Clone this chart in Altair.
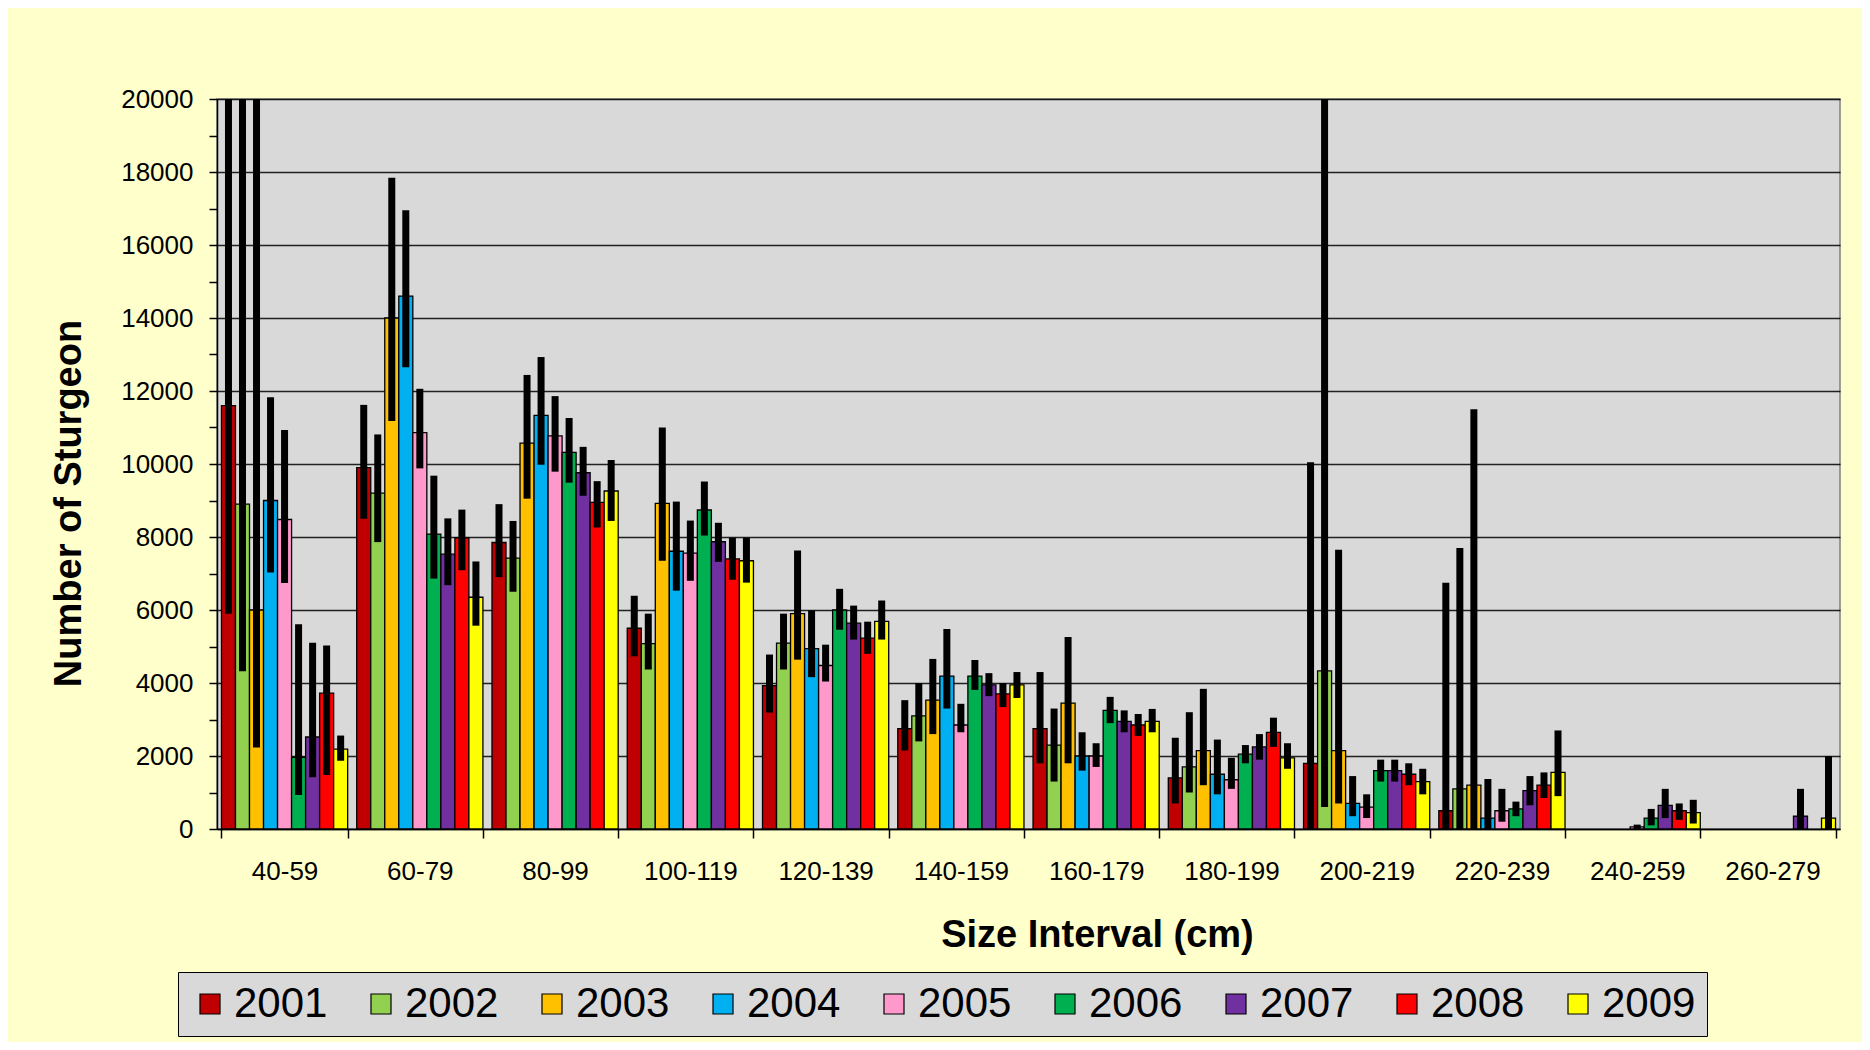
import altair as alt
import pandas as pd

intervals = ["40-59", "60-79", "80-99", "100-119", "120-139", "140-159",
             "160-179", "180-199", "200-219", "220-239", "240-259", "260-279"]
years = ["2001", "2002", "2003", "2004", "2005", "2006", "2007", "2008", "2009"]
colors = ["#C00000", "#92D050", "#FFC000", "#00B0F0", "#FF99CC",
          "#00B050", "#7030A0", "#FF0000", "#FFFF00"]

# estimated number of sturgeon per size interval (None = no bar)
n2001 = [11600, 9900, 7850, 5500, 3930, 2750, 2750, 1400, 1800, 500, None, None]
n2002 = [8900, 9200, 7420, 5080, 5090, 3100, 2300, 1700, 4330, 1100, None, None]
n2003 = [6000, 14000, 10570, 8920, 5900, 3530, 3450, 2150, 2150, 1200, None, None]
n2004 = [9000, 14600, 11330, 7610, 4940, 4190, 2000, 1500, 700, 300, None, None]
n2005 = [8480, 10860, 10770, 7560, 4480, 2850, 2000, 1350, 600, 500, 60, None]
n2006 = [1960, 8080, 10320, 8740, 6000, 4190, 3250, 2050, 1600, 550, 300, None]
n2007 = [2520, 7530, 9760, 7870, 5640, 3950, 2950, 2250, 1600, 1050, 650, 350]
n2008 = [3720, 7980, 8950, 7400, 5230, 3700, 2850, 2650, 1500, 1200, 500, None]
n2009 = [2190, 6350, 9260, 7350, 5690, 3950, 2950, 1950, 1300, 1550, 450, 300]

# lower confidence limits
lo2001 = [5900, 8500, 6900, 4730, 3190, 2150, 1800, 700, 0, 0, None, None]
lo2002 = [4320, 7860, 6500, 4370, 4370, 2400, 1300, 1000, 600, 0, None, None]
lo2003 = [2230, 11180, 9050, 7350, 4640, 2600, 1800, 1200, 700, 0, None, None]
lo2004 = [7030, 12650, 9980, 6530, 4160, 3300, 1600, 950, 350, 0, None, None]
lo2005 = [6740, 9880, 9790, 6800, 4040, 2650, 1700, 1100, 300, 200, 0, None]
lo2006 = [930, 6860, 9490, 8040, 5460, 3810, 2900, 1800, 1300, 350, 100, None]
lo2007 = [1420, 6680, 9130, 7320, 5190, 3640, 2650, 1900, 1300, 650, 300, 0]
lo2008 = [1480, 7090, 8260, 6830, 4800, 3340, 2550, 2250, 1200, 850, 250, None]
lo2009 = [1870, 5570, 8440, 6750, 5190, 3590, 2650, 1650, 950, 900, 150, 0]

# upper confidence limits (values above 20000 run off the top of the plot)
hi2001 = [21000, 11620, 8900, 6390, 4780, 3530, 4300, 2500, 10050, 6750, None, None]
hi2002 = [21000, 10810, 8440, 5900, 5900, 4000, 3300, 3200, 21000, 7700, None, None]
hi2003 = [21000, 17840, 12440, 11000, 7630, 4660, 5260, 3840, 7650, 11500, None, None]
hi2004 = [11830, 16950, 12930, 8970, 5990, 5480, 2650, 2450, 1450, 1370, None, None]
hi2005 = [10930, 12060, 11860, 8450, 5050, 3430, 2350, 1950, 950, 1100, 120, None]
hi2006 = [5610, 9680, 11260, 9520, 6580, 4630, 3620, 2300, 1900, 750, 550, None]
hi2007 = [5100, 8510, 10470, 8390, 6120, 4270, 3250, 2600, 1900, 1450, 1100, 1100]
hi2008 = [5030, 8750, 9530, 7980, 5680, 4000, 3150, 3050, 1800, 1550, 700, None]
hi2009 = [2560, 7330, 10110, 7980, 6260, 4300, 3290, 2350, 1650, 2700, 800, 2000]

counts = [n2001, n2002, n2003, n2004, n2005, n2006, n2007, n2008, n2009]
lows = [lo2001, lo2002, lo2003, lo2004, lo2005, lo2006, lo2007, lo2008, lo2009]
highs = [hi2001, hi2002, hi2003, hi2004, hi2005, hi2006, hi2007, hi2008, hi2009]

rows = []
for yi, yr in enumerate(years):
    for ii, iv in enumerate(intervals):
        c = counts[yi][ii]
        if c is None:
            continue
        rows.append({"interval": iv, "year": yr, "count": c,
                     "lo": lows[yi][ii], "hi": highs[yi][ii]})
df = pd.DataFrame(rows)

FONT = "Liberation Sans"

x_enc = alt.X(
    "interval:N", sort=intervals,
    scale=alt.Scale(paddingInner=0.067, paddingOuter=0.033),
    axis=alt.Axis(title="Size Interval (cm)", labelAngle=0, tickBand="extent",
                  labelFontSize=26, labelColor="black", labelPadding=20,
                  tickSize=9, tickColor="black", tickWidth=1.5,
                  domainColor="black", domainWidth=1.5, grid=False,
                  titleFontSize=38, titleFontWeight="bold", titleColor="black",
                  titlePadding=32, titleX=880),
)
xo_enc = alt.XOffset("year:N", sort=years,
                     scale=alt.Scale(paddingInner=0, paddingOuter=0))

y_axis = alt.Axis(
    title="Number of Sturgeon", values=list(range(0, 20001, 1000)),
    labelExpr="datum.value % 2000 === 0 ? datum.label : ''", format="d",
    labelOverlap=False, labelFontSize=26, labelColor="black", labelPadding=16,
    tickSize=8, tickColor="black", tickWidth=1.5,
    domainColor="black", domainWidth=1.5,
    gridColor="#000000", gridWidth=1.6,
    gridOpacity={"condition": {"test": "datum.value % 2000 === 0", "value": 0.85}, "value": 0},
    titleFontSize=38, titleFontWeight="bold", titleColor="black", titlePadding=32,
    titleY=404,
)
y_scale = alt.Scale(domain=[0, 20000], nice=False)

base = alt.Chart(df)

bars = base.mark_bar(stroke="black", strokeWidth=1.3).encode(
    x=x_enc,
    xOffset=xo_enc,
    y=alt.Y("count:Q", scale=y_scale, axis=y_axis),
    color=alt.Color(
        "year:N", sort=years,
        scale=alt.Scale(domain=years, range=colors),
        legend=alt.Legend(
            title=None, orient="none", legendX=-39, legendY=873,
            direction="horizontal", columns=9,
            symbolType="square", symbolSize=400, symbolStrokeColor="black",
            symbolStrokeWidth=1.2, symbolOpacity=1,
            labelFontSize=42, labelFont=FONT, labelColor="black", labelOffset=3,
            columnPadding=32, padding=11,
            fillColor="#D9D9D9", strokeColor="black",
        ),
    ),
)

errs = base.mark_rule(color="black", strokeWidth=7, clip=True).encode(
    x=x_enc,
    xOffset=xo_enc,
    y=alt.Y("lo:Q", scale=y_scale, axis=y_axis),
    y2="hi:Q",
)

chart = (
    alt.layer(bars, errs)
    .properties(
        width=1623, height=730,
        autosize=alt.AutoSizeParams(type="none"),
        padding={"left": 209, "top": 91, "right": 22, "bottom": 213},
        background="#FFFFCC",
    )
    .configure(font=FONT)
    .configure_view(fill="#D9D9D9", stroke="#808080", strokeWidth=1.5)
)

chart.save("out.html", embed_options={"renderer": "svg", "actions": False})
